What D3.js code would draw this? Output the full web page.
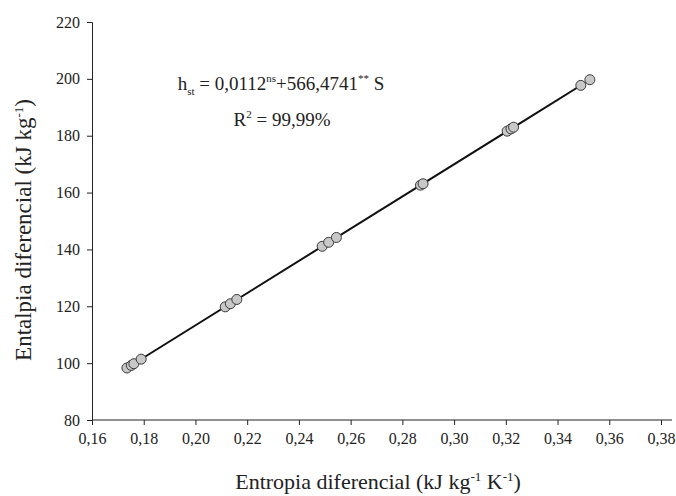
<!DOCTYPE html>
<html>
<head>
<meta charset="utf-8">
<script src="https://cdn.jsdelivr.net/npm/d3@7/dist/d3.min.js"></script>
<style>
  html, body { margin: 0; padding: 0; background: #ffffff; }
  svg { display: block; }
  text { font-family: "Liberation Serif", "Times New Roman", serif; fill: #222; }
</style>
</head>
<body>
<svg id="chart" width="676" height="496"></svg>
<script>
// Data: differential entropy (S) vs differential enthalpy (h_st)
const entropy = [0.1735, 0.1752, 0.1762, 0.1790,
                 0.2115, 0.2135, 0.2160,
                 0.2490, 0.2515, 0.2545,
                 0.2870, 0.2880,
                 0.3205, 0.3220, 0.3230,
                 0.3490, 0.3525];
const enthalpy = [98.3, 99.2, 99.8, 101.4,
                  119.8, 120.9, 122.4,
                  141.1, 142.5, 144.2,
                  162.6, 163.1,
                  181.6, 182.4, 183.0,
                  197.7, 199.7];
const fitIntercept = 0.0112;
const fitSlope = 566.4741;
const xTicks = [0.16, 0.18, 0.20, 0.22, 0.24, 0.26, 0.28, 0.30, 0.32, 0.34, 0.36, 0.38];
const yTicks = [80, 100, 120, 140, 160, 180, 200, 220];

const svg = d3.select("#chart");
const x = d3.scaleLinear().domain([0.16, 0.38]).range([92, 661]);
const y = d3.scaleLinear().domain([80, 220]).range([420, 22]);

const fmtX = d => d3.format(".2f")(d).replace(".", ",");

// Axes
const xAxis = svg.append("g").attr("transform", "translate(0,420)")
  .call(d3.axisBottom(x).tickValues(xTicks).tickFormat(fmtX).tickSizeOuter(0).tickSize(5).tickPadding(8));
xAxis.select(".domain").attr("d", "M92,0H672");
const yAxis = svg.append("g").attr("transform", "translate(92,0)")
  .call(d3.axisLeft(y).tickValues(yTicks).tickSizeOuter(0).tickSize(5).tickPadding(7));
[xAxis, yAxis].forEach(g => {
  g.selectAll("text").style("font-family", '"Liberation Serif", serif').style("font-size", "16px").attr("fill", "#222");
  g.selectAll("line, path").attr("stroke", "#222").attr("stroke-width", 1);
});

// Regression line
const sMin = d3.min(entropy), sMax = d3.max(entropy);
svg.append("line")
  .attr("x1", x(sMin)).attr("y1", y(fitIntercept + fitSlope * sMin))
  .attr("x2", x(sMax)).attr("y2", y(fitIntercept + fitSlope * sMax))
  .attr("stroke", "#111").attr("stroke-width", 2);

// Points
svg.append("g").selectAll("circle")
  .data(entropy.map((s, i) => [s, enthalpy[i]]))
  .join("circle")
  .attr("cx", d => x(d[0])).attr("cy", d => y(d[1])).attr("r", 5)
  .attr("fill", "#c8c8c8").attr("stroke", "#3a3a3a").attr("stroke-width", 1);

// Equation text
const eq = svg.append("text").attr("x", 281).attr("y", 90).attr("text-anchor", "middle").style("font-size", "19px");
eq.append("tspan").text("h");
eq.append("tspan").attr("dy", 5).style("font-size", "11px").text("st");
eq.append("tspan").attr("dy", -5).text(" = 0,0112");
eq.append("tspan").attr("dy", -8).style("font-size", "11px").text("ns");
eq.append("tspan").attr("dy", 8).text("+566,4741");
eq.append("tspan").attr("dy", -8).style("font-size", "11px").text("**");
eq.append("tspan").attr("dy", 8).text(" S");

const r2 = svg.append("text").attr("x", 282).attr("y", 126).attr("text-anchor", "middle").style("font-size", "19px");
r2.append("tspan").text("R");
r2.append("tspan").attr("dy", -8).style("font-size", "11px").text("2");
r2.append("tspan").attr("dy", 8).text(" = 99,99%");

// Axis titles
const xt = svg.append("text").attr("x", 378).attr("y", 489).attr("text-anchor", "middle").style("font-size", "22px");
xt.append("tspan").text("Entropia diferencial (kJ kg");
xt.append("tspan").attr("dy", -8).style("font-size", "13px").text("-1");
xt.append("tspan").attr("dy", 8).text(" K");
xt.append("tspan").attr("dy", -8).style("font-size", "13px").text("-1");
xt.append("tspan").attr("dy", 8).text(")");

const yt = svg.append("text").attr("transform", "translate(31,230) rotate(-90)").attr("text-anchor", "middle").style("font-size", "23px");
yt.append("tspan").text("Entalpia diferencial (kJ kg");
yt.append("tspan").attr("dy", -8).style("font-size", "13px").text("-1");
yt.append("tspan").attr("dy", 8).text(")");
</script>
</body>
</html>
